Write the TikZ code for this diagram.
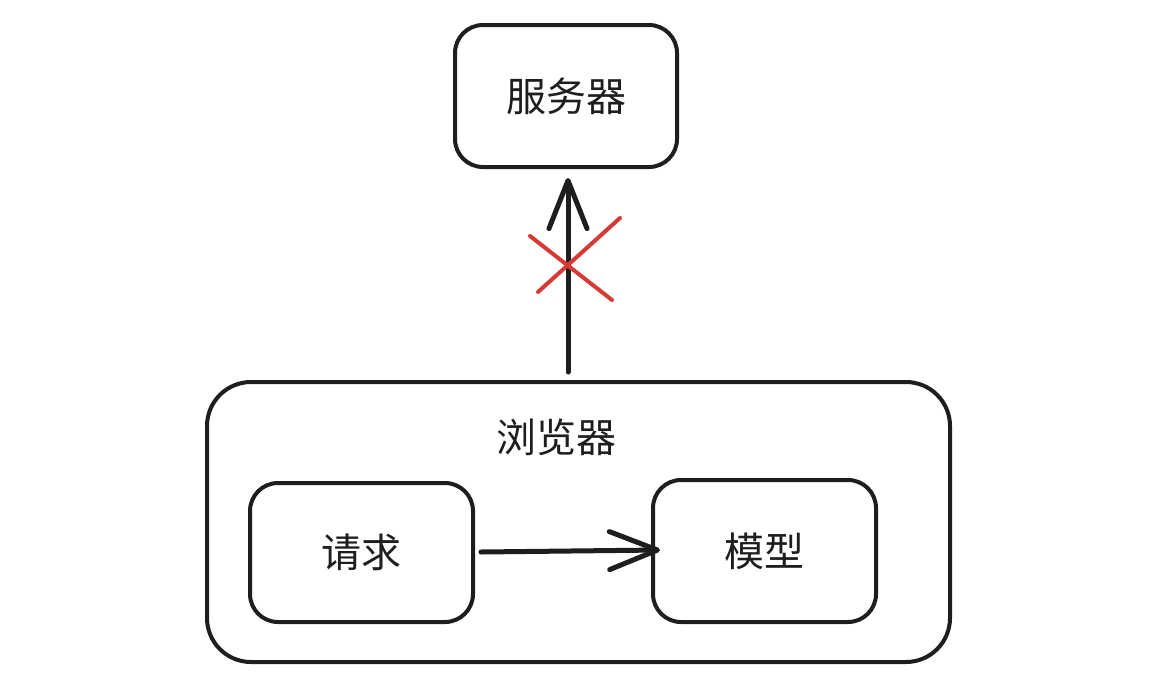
\documentclass[tikz,border=0pt]{standalone}
\usepackage{fontspec}
\setmainfont{Noto Sans CJK SC}
\usetikzlibrary{arrows.meta}
\definecolor{inkblack}{RGB}{30,30,30}
\definecolor{crossred}{RGB}{214,58,52}
\tikzset{
  box/.style={draw=inkblack, line width=4pt, rounded corners=28pt, inner sep=0pt},
  label/.style={font=\fontsize{40}{42}\selectfont, text=inkblack},
  flow/.style={draw=inkblack, line width=5pt, line cap=round,
    -{Straight Barb[length=48pt,width=38pt,line width=5pt,round]}},
  cross/.style={draw=crossred, line width=4pt, line cap=round}
}
\begin{document}
\begin{tikzpicture}[x=1pt,y=-1pt]
\useasboundingbox[fill=white] (0,0) rectangle (1150,688);

\node[box, minimum width=222pt, minimum height=142pt] (server) at (566,96) {};
\node[label] at (server.center) {服务器};

\node[box, rounded corners=44pt, minimum width=743pt, minimum height=280pt] (browser) at (578.5,522) {};
\node[label] (browsertitle) at (556,437) {浏览器};

\node[box, minimum width=223pt, minimum height=139pt] (request) at (361.5,552.5) {};
\node[label] at (request.center) {请求};

\node[box, minimum width=223pt, minimum height=142pt] (model) at (764.5,551) {};
\node[label] at (model.center) {模型};

\coordinate (up0) at (568,372);
\coordinate (up1) at (568,178);
\draw[flow] (up0) -- (up1);

\coordinate (right0) at (481,552);
\coordinate (right1) at (660,550);
\draw[flow] (right0) -- (right1);

% the blocked request
\draw[cross] (530,236) -- (612,300);
\draw[cross] (538,292) -- (620,218);
\end{tikzpicture}
\end{document}
